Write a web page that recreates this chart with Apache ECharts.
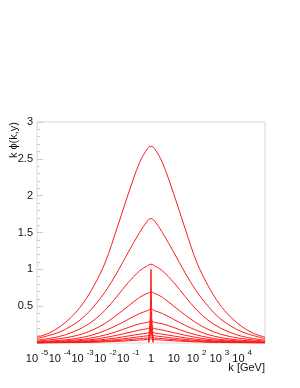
<!DOCTYPE html>
<html><head><meta charset="utf-8">
<script src="https://cdn.jsdelivr.net/npm/echarts@6/dist/echarts.min.js"></script>
<style>html,body{margin:0;padding:0;background:#fff}#c{width:300px;height:388px}</style>
</head><body><div id="c"></div>
<script>
// k grid (GeV)
var kValues = [1e-5,3.162e-5,1e-4,3.162e-4,1e-3,3.162e-3,0.01,0.03162,0.1,0.3162,0.7079,1,1.4125,3.162,10,31.62,100,316.2,1000,3162,10000,31623,100000];
// k*phi(k,y) curves
var c1 = [0.08,0.13,0.22,0.35,0.53,0.78,1.10,1.55,2.02,2.45,2.64,2.67,2.64,2.45,2.02,1.55,1.10,0.78,0.53,0.35,0.22,0.13,0.08];
var c2 = [0.06,0.10,0.15,0.23,0.34,0.50,0.70,0.95,1.23,1.50,1.66,1.69,1.66,1.50,1.23,0.95,0.70,0.50,0.34,0.23,0.15,0.10,0.06];
var c3 = [0.04,0.06,0.09,0.14,0.21,0.31,0.45,0.63,0.82,0.98,1.05,1.07,1.05,0.98,0.82,0.63,0.45,0.31,0.21,0.14,0.09,0.06,0.04];
var c4 = [0.025,0.04,0.06,0.085,0.125,0.185,0.27,0.38,0.50,0.62,0.675,0.69,0.675,0.62,0.50,0.38,0.27,0.185,0.125,0.085,0.06,0.04,0.025];
var c5 = [0.016,0.025,0.036,0.052,0.077,0.115,0.17,0.24,0.32,0.40,0.44,0.46,0.44,0.40,0.32,0.24,0.17,0.115,0.077,0.052,0.036,0.025,0.016];
var c6 = [0.01,0.016,0.024,0.035,0.05,0.075,0.11,0.155,0.21,0.26,0.28,0.30,0.28,0.26,0.21,0.155,0.11,0.075,0.05,0.035,0.024,0.016,0.01];
var c7 = [0.007,0.011,0.016,0.024,0.035,0.05,0.075,0.105,0.14,0.175,0.195,0.21,0.195,0.175,0.14,0.105,0.075,0.05,0.035,0.024,0.016,0.011,0.007];
var c8 = [0.005,0.007,0.011,0.016,0.024,0.034,0.05,0.07,0.095,0.12,0.135,0.15,0.135,0.12,0.095,0.07,0.05,0.034,0.024,0.016,0.011,0.007,0.005];
var c9 = [0.003,0.005,0.007,0.011,0.016,0.023,0.034,0.048,0.065,0.085,0.098,0.11,0.098,0.085,0.065,0.048,0.034,0.023,0.016,0.011,0.007,0.005,0.003];
var c10 = [0.002,0.003,0.005,0.007,0.011,0.016,0.023,0.033,0.045,0.059,0.068,0.08,0.068,0.059,0.045,0.033,0.023,0.016,0.011,0.007,0.005,0.003,0.002];
var c11 = [0.001,0.002,0.003,0.005,0.007,0.011,0.016,0.022,0.03,0.04,0.047,0.055,0.047,0.04,0.03,0.022,0.016,0.011,0.007,0.005,0.003,0.002,0.001];
// narrow spikes at k = 1
var spikeK = [0.79,0.93,1,1.075,1.26];
var spike1 = [0.02,0.35,1.0,0.35,0.02];
var spike2 = [0.01,0.2,0.42,0.2,0.01];
var spike3 = [0.005,0.12,0.27,0.12,0.005];
// tick labels
var xTickLabels = {'1e-5':'{b|10}{s|-5}','0.0001':'{b|10}{s|-4}','0.001':'{b|10}{s|-3}','0.01':'{b|10}{s|-2}','0.1':'{b|10}{s|-1}','1':'{b|1}','10':'{b|10}','100':'{b|10}{s|2}','1000':'{b|10}{s|3}','10000':'{b|10}{s|4}'};
var yTickLabels = ['0.5','1','1.5','2','2.5','3'];

var curves = [c1,c2,c3,c4,c5,c6,c7,c8,c9,c10,c11];
var spikes = [spike1,spike2,spike3];
var series = [];
curves.forEach(function(c){
  series.push({type:'line', data:kValues.map(function(k,i){return [k,c[i]];}), smooth:0.35, showSymbol:false, lineStyle:{color:'#ff1a1a', width:1}, silent:true});
});
spikes.forEach(function(c){
  series.push({type:'line', data:spikeK.map(function(k,i){return [k,c[i]];}), smooth:false, showSymbol:false, lineStyle:{color:'#ff1a1a', width:1}, silent:true});
});

var chart = echarts.init(document.getElementById('c'), null, {renderer:'canvas'});
chart.setOption({
  animation:false,
  grid:{left:37, right:35, top:122, bottom:45, show:true, borderColor:'#d8d8d8', borderWidth:1},
  xAxis:{type:'log', min:1e-5, max:1e5, logBase:10, interval:1,
    axisLine:{show:false}, axisTick:{show:false}, splitLine:{show:false},
    axisLabel:{interval:0, margin:6, showMaxLabel:false, hideOverlap:false,
      fontFamily:'Liberation Sans', fontSize:11, color:'#111',
      formatter:function(v){ var key = String(+v.toPrecision(3)); if (v<2e-5) key='1e-5'; return xTickLabels[key]||''; },
      rich:{
        b:{fontSize:11, fontFamily:'Liberation Sans', color:'#111', lineHeight:15, verticalAlign:'bottom'},
        s:{fontSize:8, fontFamily:'Liberation Sans', color:'#111', lineHeight:9, verticalAlign:'top', padding:[0,0,0,3]}
      }
    }},
  yAxis:{type:'value', min:0, max:3, interval:0.5,
    axisLine:{show:false}, splitLine:{show:false},
    axisTick:{show:true, inside:true, length:6, lineStyle:{color:'#cccccc'}},
    minorTick:{show:true, splitNumber:5, length:3, lineStyle:{color:'#cccccc'}},
    axisLabel:{margin:4, fontFamily:'Liberation Sans', fontSize:11, color:'#111',
      formatter:function(v){ var i=Math.round(v*2)-1; return i>=0? yTickLabels[i]:''; }}},
  graphic:[
    {type:'text', x:14, y:122, rotation:Math.PI/2, style:{text:'k ϕ(k,y)', font:'11px "Liberation Sans"', fill:'#111', align:'right', verticalAlign:'middle'}},
    {type:'text', x:265, y:368, style:{text:'k [GeV]', font:'11px "Liberation Sans"', fill:'#111', align:'right', verticalAlign:'middle'}}
  ],
  series:series
});
</script></body></html>
